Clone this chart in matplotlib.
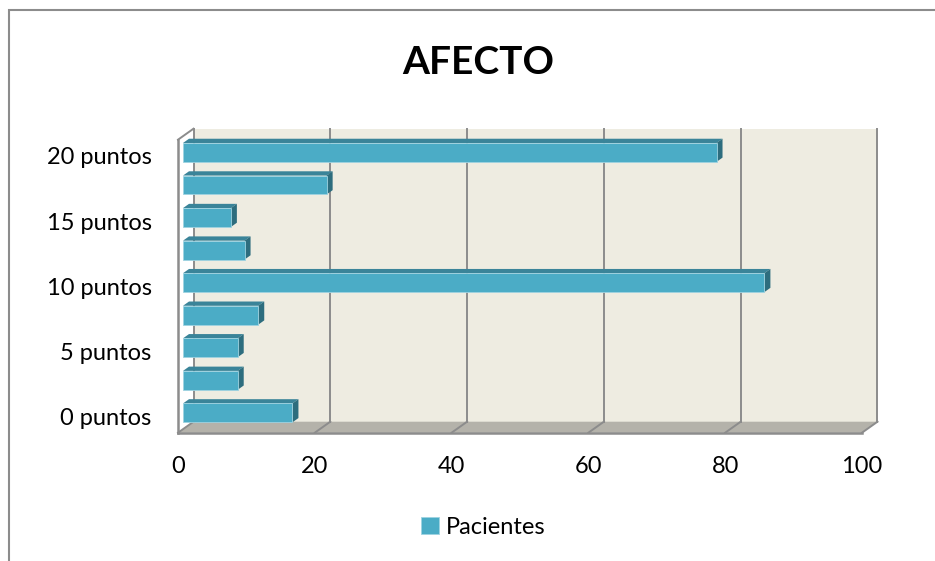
import numpy as np
import matplotlib
matplotlib.use('Agg')
import matplotlib.pyplot as plt
from matplotlib.patches import Polygon, Rectangle

plt.rcParams['font.family'] = ['Lato', 'DejaVu Sans']

# datos
categorias = ['0 puntos', '2.5 puntos', '5 puntos', '7.5 puntos', '10 puntos',
              '12.5 puntos', '15 puntos', '17.5 puntos', '20 puntos']
pacientes = [16, 8, 8, 11, 85, 9, 7, 21, 78]
xticks = [0, 20, 40, 60, 80, 100]

# colores estilo Excel
c_pared = '#EEECE1'
c_suelo = '#B4B2AA'
c_linea = '#8C8C8C'
c_frente = '#4BACC6'
c_arriba = '#3A8499'
c_lado = '#2D6D7E'

W, H = 935, 561
fig = plt.figure(figsize=(W / 100, H / 100), dpi=100)
ax = fig.add_axes([178 / W, (H - 432.7) / H, 684 / W, 293 / H])
ax.set_xlim(0, 100)
ax.set_ylim(-0.5, len(categorias) - 0.5)
ax.patch.set_visible(False)
for s in ax.spines.values():
    s.set_visible(False)

px_x = ax.get_position().width * W / 100
px_y = ax.get_position().height * H / len(categorias)

def prof(p):
    # desplazamiento 3D (p pixeles en x) en unidades de datos
    return p / px_x, p * (11 / 15.5) / px_y

ytop = len(categorias) - 0.5
bx, by = prof(15.5)

# pared del fondo y suelo
ax.add_patch(Rectangle((bx, -0.5 + by), 100, len(categorias), fc=c_pared, ec='none',
                       zorder=0, clip_on=False))
ax.add_patch(Polygon([(0, -0.5), (100, -0.5), (100 + bx, -0.5 + by), (bx, -0.5 + by)],
                     closed=True, fc=c_suelo, ec='none', zorder=1, clip_on=False))
for v in xticks:
    ax.plot([v + bx, v + bx], [-0.5 + by, ytop + by], color=c_linea, lw=1.4, zorder=1.5, clip_on=False)
    ax.plot([v, v + bx], [-0.5, -0.5 + by], color=c_linea, lw=1.4, zorder=1.5, clip_on=False)
ax.plot([0, 100], [-0.5, -0.5], color=c_linea, lw=1.8, zorder=2, clip_on=False)
ax.plot([0, 0], [-0.5, ytop], color=c_linea, lw=1.8, zorder=2, clip_on=False)
ax.plot([0, bx], [ytop, ytop + by], color=c_linea, lw=1.4, zorder=2, clip_on=False)

# barras 3D
h = 0.58
fx, fy = prof(5)
bbx, bby = prof(11)
pos = np.arange(len(categorias))
barras = ax.barh(pos + fy, pacientes, height=h, left=fx, color=c_frente,
                 edgecolor='#9FD3E1', lw=0.6, zorder=4, label='Pacientes')
for y, v in zip(pos, pacientes):
    yt = y + h / 2
    yb = y - h / 2
    ax.add_patch(Polygon([(fx, yt + fy), (fx + v, yt + fy), (bbx + v, yt + bby), (bbx, yt + bby)],
                         closed=True, fc=c_arriba, ec='none', zorder=3, clip_on=False))
    ax.add_patch(Polygon([(fx + v, yb + fy), (fx + v, yt + fy), (bbx + v, yt + bby), (bbx + v, yb + bby)],
                         closed=True, fc=c_lado, ec='none', zorder=3, clip_on=False))

ax.set_xticks(xticks)
ax.set_yticks(pos[::2], categorias[::2])
ax.tick_params(axis='both', length=0, labelsize=17)
ax.tick_params(axis='x', pad=17)
ax.tick_params(axis='y', pad=19)

fig.text(478 / W, 1 - 62 / H, 'AFECTO', ha='center', va='center', fontsize=28, fontweight='bold')

ax.legend(loc='center', bbox_to_anchor=(483 / W, 34 / H), bbox_transform=fig.transFigure,
          frameon=False, fontsize=17, handlelength=0.75, handleheight=0.75, handletextpad=0.3)

# borde del grafico
fig.patches.append(Rectangle((9 / W, -0.5), 2, 1.5 - 10 / H, transform=fig.transFigure,
                             fill=False, ec='#8C8C8C', lw=1.5))

fig.savefig('out.png', dpi=100)
